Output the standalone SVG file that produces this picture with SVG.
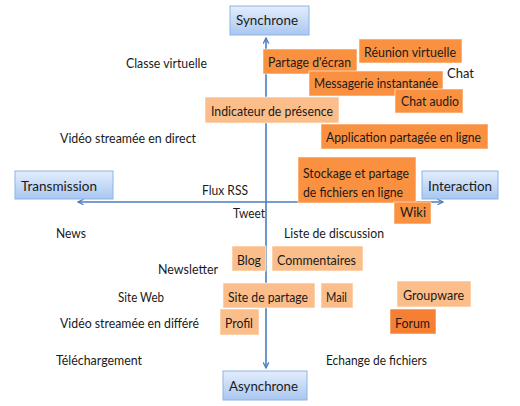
<svg xmlns="http://www.w3.org/2000/svg" width="520" height="406" viewBox="0 0 520 406">
<style>
text{font-family:Lato,"Open Sans","DejaVu Sans",sans-serif;font-size:13.5px;fill:#1a1a1a}
.ax{fill:none;stroke:#4a7ebb;stroke-width:1.6}
.blue{fill:url(#bg);stroke:#8db3e2;stroke-width:1}
.dk{fill:#fa9140;stroke:#fff;stroke-opacity:.55;stroke-width:1}
.fo{fill:#f58034;stroke:#fff;stroke-opacity:.55;stroke-width:1}
.lt{fill:#fbbe8b;stroke:#fff;stroke-opacity:.55;stroke-width:1}
</style>
<defs>
<linearGradient id="bg" x1="0" y1="0" x2="0" y2="1">
<stop offset="0" stop-color="#e3eefc"/>
<stop offset="1" stop-color="#a9c7f1"/>
</linearGradient>
<marker id="ar" viewBox="0 0 10 10" refX="9" refY="5" markerWidth="7" markerHeight="7" orient="auto-start-reverse" markerUnits="userSpaceOnUse">
<path d="M1,1 L9,5 L1,9" fill="none" stroke="#4a7ebb" stroke-width="1.8"/>
</marker>
</defs>
<rect width="520" height="406" fill="#fff"/>
<g id="connectors">
<line class="ax" x1="266" y1="38" x2="266" y2="368" marker-start="url(#ar)" marker-end="url(#ar)"/>
<line class="ax" x1="78" y1="202" x2="443" y2="202" marker-start="url(#ar)" marker-end="url(#ar)"/>
</g>
<g id="synchrone"><rect class="blue" x="230" y="6" width="79" height="29"/><text x="236" y="25" textLength="62" lengthAdjust="spacingAndGlyphs">Synchrone</text></g>
<g id="transmission"><rect class="blue" x="15" y="171" width="98" height="28"/><text x="21" y="191" textLength="76" lengthAdjust="spacingAndGlyphs">Transmission</text></g>
<g id="interaction"><rect class="blue" x="422" y="171" width="76" height="28"/><text x="428" y="191" textLength="64" lengthAdjust="spacingAndGlyphs">Interaction</text></g>
<g id="asynchrone"><rect class="blue" x="223" y="371" width="84" height="29"/><text x="229" y="391" textLength="69" lengthAdjust="spacingAndGlyphs">Asynchrone</text></g>
<g id="reunion"><rect class="dk" x="359" y="39" width="103" height="24"/><text x="364" y="57" textLength="92" lengthAdjust="spacingAndGlyphs">Réunion virtuelle</text></g>
<g id="partage-ecran"><rect class="dk" x="263" y="49" width="94" height="25"/><text x="268" y="67" textLength="83" lengthAdjust="spacingAndGlyphs">Partage d'écran</text></g>
<g id="messagerie"><rect class="dk" x="309" y="71" width="134" height="25"/><text x="314" y="88" textLength="124" lengthAdjust="spacingAndGlyphs">Messagerie instantanée</text></g>
<g id="chat-audio"><rect class="dk" x="395" y="89" width="68" height="24"/><text x="401" y="106" textLength="58" lengthAdjust="spacingAndGlyphs">Chat audio</text></g>
<g id="indicateur"><rect class="lt" x="205" y="97" width="134" height="26"/><text x="211" y="116" textLength="122" lengthAdjust="spacingAndGlyphs">Indicateur de présence</text></g>
<g id="application"><rect class="dk" x="321" y="124" width="167" height="25"/><text x="326" y="142" textLength="155" lengthAdjust="spacingAndGlyphs">Application partagée en ligne</text></g>
<g id="stockage"><rect class="dk" x="298" y="157" width="118" height="46"/><text x="303" y="178" textLength="106" lengthAdjust="spacingAndGlyphs">Stockage et partage</text><text x="303" y="197" textLength="100" lengthAdjust="spacingAndGlyphs">de fichiers en ligne</text></g>
<g id="wiki"><rect class="dk" x="394" y="202" width="37" height="22"/><text x="400" y="217" textLength="26" lengthAdjust="spacingAndGlyphs">Wiki</text></g>
<g id="blog"><rect class="lt" x="232" y="246" width="34" height="25"/><text x="237" y="265" textLength="24" lengthAdjust="spacingAndGlyphs">Blog</text></g>
<g id="commentaires"><rect class="lt" x="272" y="246" width="91" height="25"/><text x="277" y="265" textLength="79" lengthAdjust="spacingAndGlyphs">Commentaires</text></g>
<g id="site-partage"><rect class="lt" x="223" y="283" width="92" height="25"/><text x="228" y="302" textLength="80" lengthAdjust="spacingAndGlyphs">Site de partage</text></g>
<g id="mail"><rect class="lt" x="321" y="283" width="32" height="25"/><text x="326" y="302" textLength="21" lengthAdjust="spacingAndGlyphs">Mail</text></g>
<g id="groupware"><rect class="lt" x="397" y="281" width="74" height="26"/><text x="403" y="300" textLength="61" lengthAdjust="spacingAndGlyphs">Groupware</text></g>
<g id="profil"><rect class="lt" x="220" y="309" width="39" height="26"/><text x="225" y="328" textLength="28" lengthAdjust="spacingAndGlyphs">Profil</text></g>
<g id="forum"><rect class="fo" x="390" y="309" width="46" height="25"/><text x="395" y="328" textLength="35" lengthAdjust="spacingAndGlyphs">Forum</text></g>
<g id="classe-virtuelle"><text x="126" y="68" textLength="81" lengthAdjust="spacingAndGlyphs">Classe virtuelle</text></g>
<g id="chat"><text x="447" y="78" textLength="27" lengthAdjust="spacingAndGlyphs">Chat</text></g>
<g id="video-direct"><text x="60" y="143" textLength="136" lengthAdjust="spacingAndGlyphs">Vidéo streamée en direct</text></g>
<g id="flux-rss"><text x="202" y="195" textLength="46" lengthAdjust="spacingAndGlyphs">Flux RSS</text></g>
<g id="tweet"><text x="233" y="218" textLength="32" lengthAdjust="spacingAndGlyphs">Tweet</text></g>
<g id="news"><text x="56" y="238" textLength="30" lengthAdjust="spacingAndGlyphs">News</text></g>
<g id="liste-discussion"><text x="284" y="238" textLength="100" lengthAdjust="spacingAndGlyphs">Liste de discussion</text></g>
<g id="newsletter"><text x="158" y="274" textLength="60" lengthAdjust="spacingAndGlyphs">Newsletter</text></g>
<g id="site-web"><text x="118" y="302" textLength="46" lengthAdjust="spacingAndGlyphs">Site Web</text></g>
<g id="video-differe"><text x="60" y="328" textLength="139" lengthAdjust="spacingAndGlyphs">Vidéo streamée en différé</text></g>
<g id="telechargement"><text x="56" y="365" textLength="86" lengthAdjust="spacingAndGlyphs">Téléchargement</text></g>
<g id="echange"><text x="326" y="365" textLength="101" lengthAdjust="spacingAndGlyphs">Echange de fichiers</text></g>
</svg>
